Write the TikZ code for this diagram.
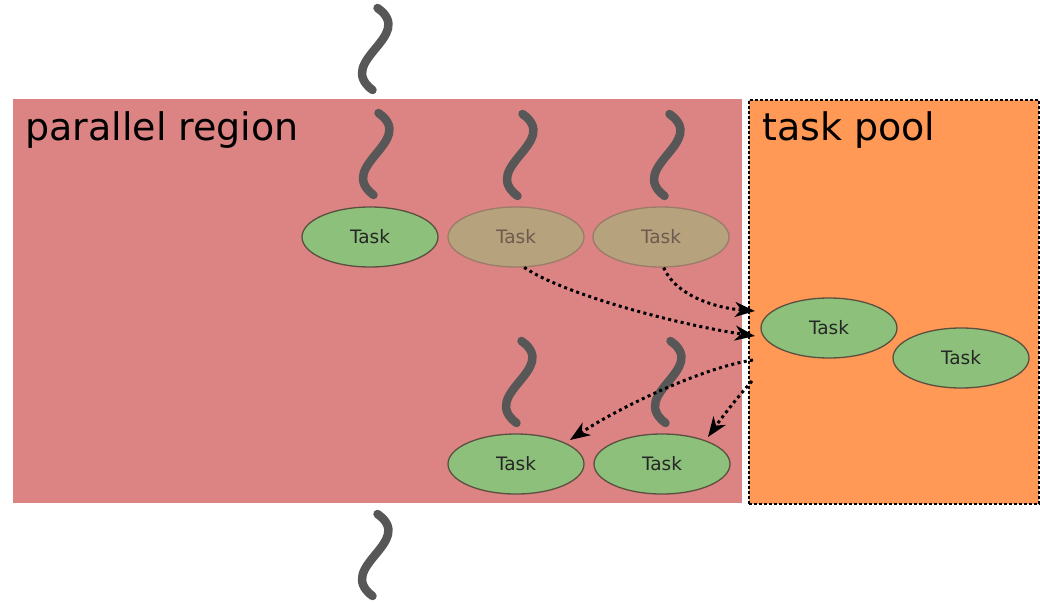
\documentclass[tikz,border=0pt]{standalone}
\usepackage{fontspec}
\setmainfont{DejaVu Sans}
\usetikzlibrary{shapes.geometric,arrows.meta}
\definecolor{regionred}{HTML}{DB8483}
\definecolor{poolorange}{HTML}{FF9955}
\definecolor{taskgreen}{HTML}{8DC17B}
\definecolor{taskedge}{HTML}{5B5040}
\definecolor{ghostfill}{HTML}{B7A27E}
\definecolor{ghostedge}{HTML}{9A7C68}
\definecolor{ghosttext}{HTML}{6E5B4D}
\definecolor{threadgray}{HTML}{575757}
\begin{document}
\begin{tikzpicture}[x=1pt,y=-1pt,
  task/.style={ellipse, draw=taskedge, line width=1.3pt, fill=taskgreen,
    minimum width=136pt, minimum height=60pt, inner sep=0pt,
    font=\fontsize{18.5}{22}\selectfont, text=black!85},
  ghost/.style={task, fill=ghostfill, draw=ghostedge, text=ghosttext},
  thread/.pic={\draw[line width=8.5pt, threadgray, line cap=round]
    (2.5,-41) .. controls (42,-13) and (-41,12) .. (-2.5,41);},
  flow/.style={line width=3pt, dash pattern=on 3pt off 3.4pt,
    -{Stealth[length=20pt,width=15pt,inset=6pt]}},
  title/.style={anchor=base west, inner sep=0pt, font=\fontsize{38}{45}\selectfont}
]
\useasboundingbox (0,0) rectangle (1040,602);

% the two areas
\node[anchor=north west, inner sep=0pt, fill=regionred, draw=white, line width=1pt,
  minimum width=730pt, minimum height=405pt] (region) at (12,98) {};
\node[anchor=north west, inner sep=0pt, fill=poolorange, draw=black, line width=1.6pt,
  dash pattern=on 3pt off 2pt, minimum width=290pt, minimum height=404pt] (pool) at (748,99) {};
\node[title] (regionlabel) at (25,140) {parallel region};
\node[title] (poollabel) at (762,140) {task pool};

% threads
\pic at (375,49) {thread};
\pic at (376,154) {thread};
\pic at (520,155) {thread};
\pic at (667,155) {thread};
\pic at (519,382) {thread};
\pic at (668,382) {thread};
\pic at (375,555) {thread};

% tasks
\node[task]  (A) at (370,237) {Task};
\node[ghost] (B) at (516,237) {Task};
\node[ghost] (C) at (661,237) {Task};
\node[task]  (D) at (516,464) {Task};
\node[task]  (E) at (662,464) {Task};
\node[task]  (F) at (829,328) {Task};
\node[task]  (G) at (961,358) {Task};

% pool entry and exit points
\coordinate (in1) at (755,311);
\coordinate (in2) at (755,336);
\coordinate (out1) at (753,360);
\coordinate (out2) at (752,381);
\coordinate (d1) at (570,440);
\coordinate (e1) at (708,437);

\draw[flow] (C.-85) .. controls (675,295) and (715,308) .. (in1);
\draw[flow] (B.-75) .. controls (565,295) and (680,325) .. (in2);
\draw[flow] (out1) .. controls (700,368) and (615,410) .. (d1);
\draw[flow] (out2) .. controls (735,400) and (720,420) .. (e1);
\end{tikzpicture}
\end{document}
